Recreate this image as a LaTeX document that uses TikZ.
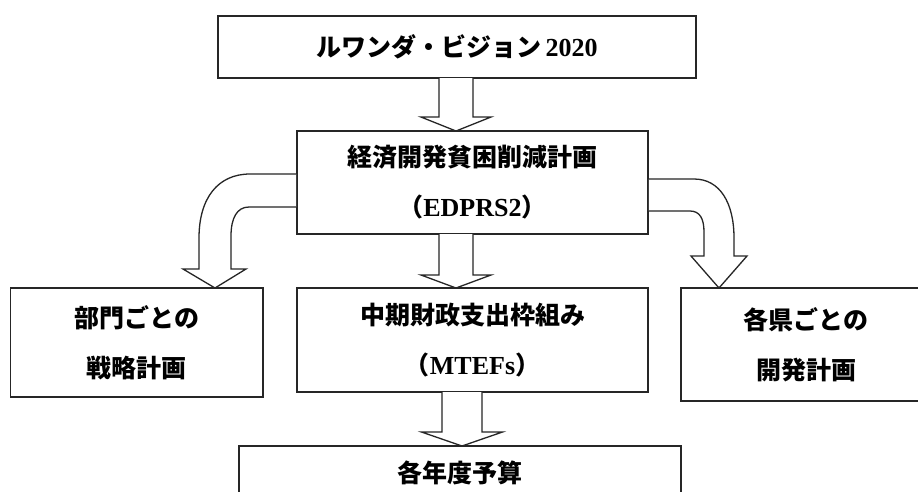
\documentclass[tikz,border=0pt]{standalone}
\usepackage{fontspec}
\setmainfont{Liberation Serif}
\newfontfamily\jp{Noto Sans CJK JP}
\tikzset{
  box/.style={draw=black!85, line width=1.6pt, rectangle, inner sep=0pt, align=center,
    font=\jp\bfseries\fontsize{25}{50}\selectfont},
  barrow/.style={draw=black!85, line width=1.3pt, fill=white, line join=miter},
}
\newcommand\lat[1]{{\normalfont\bfseries\fontsize{26}{50}\selectfont #1}}
\newcommand\downblock[6]{% xc, ystart, yhead, ytip, halfshaft, halfhead
  \draw[barrow] (#1-#5,#2) -- (#1-#5,#3) -- (#1-#6,#3) -- (#1,#4) -- (#1+#6,#3) -- (#1+#5,#3) -- (#1+#5,#2);}
\begin{document}
\begin{tikzpicture}[x=1pt,y=-1pt]
\clip (0,0) rectangle (918,491);
\fill[white] (0,0) rectangle (918,491);
\node[box, minimum width=478pt, minimum height=62pt] (vision) at (457,47) {ルワンダ・ビジョン\,\lat{2020}};
\node[box, minimum width=351pt, minimum height=103pt] (edprs) at (472.5,182.5) {経済開発貧困削減計画\\（\lat{EDPRS2}）};
\node[box, minimum width=252.5pt, minimum height=109pt] (sector) at (136.75,342.5) {部門ごとの\\戦略計画};
\node[box, minimum width=351pt, minimum height=104pt] (mtef) at (472.5,340) {中期財政支出枠組み\\（\lat{MTEFs}）};
\node[box, minimum width=250pt, minimum height=113pt] (district) at (806,344.5) {各県ごとの\\開発計画};
\node[box, minimum width=442pt, minimum height=54pt] (budget) at (460,473) {各年度予算};
% straight block arrows
\downblock{456}{78}{117}{131}{17}{35}
\downblock{456}{234}{275}{288}{17}{35}
\downblock{462}{392}{432}{446}{20}{40.5}
% left curved block arrow
\draw[barrow] (edprs.west |- 0,174) -- (250,174) .. controls (218,174) and (199,198) .. (199,238) -- (199,269)
  -- (183,269) -- (215,288) -- (246,269) -- (231,269) -- (231,236)
  .. controls (231,218) and (237,207) .. (249,207) -- (edprs.west |- 0,207);
% right curved block arrow
\draw[barrow] (edprs.east |- 0,179) -- (694,179) .. controls (720,179) and (734,203) .. (734,238) -- (734,256)
  -- (747,256) -- (719,288) -- (691,256) -- (704,256) -- (704,232)
  .. controls (704,219) and (700,211) .. (690,211) -- (edprs.east |- 0,211);
\end{tikzpicture}
\end{document}
